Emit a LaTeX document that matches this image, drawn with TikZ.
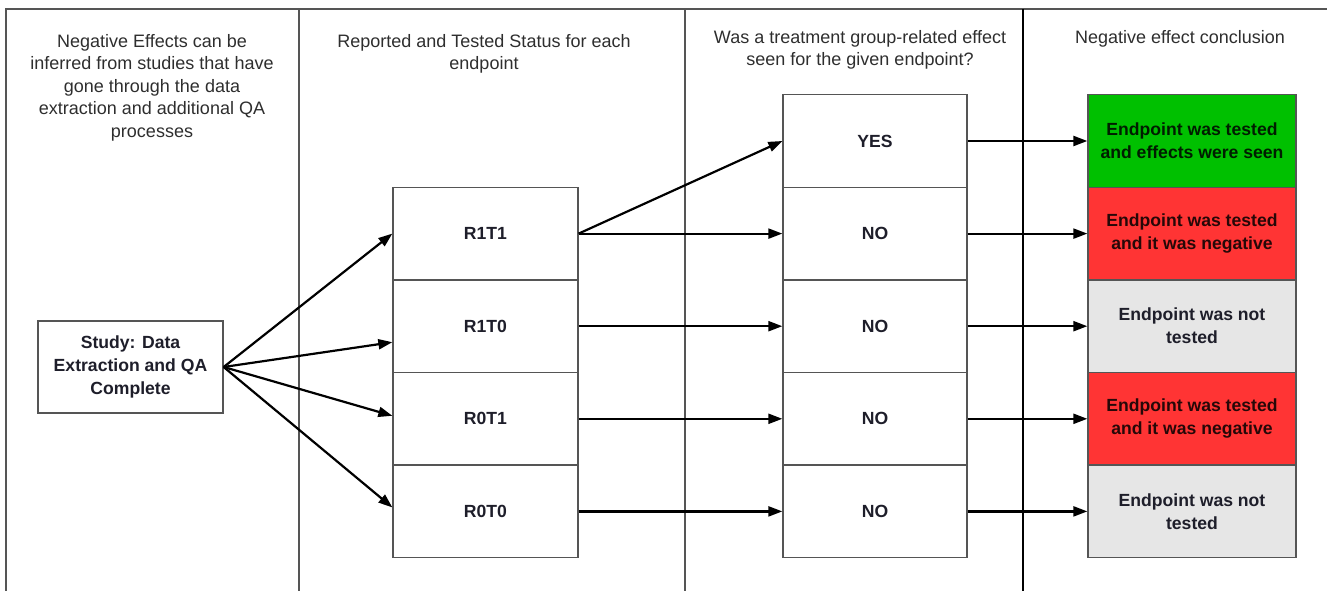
\documentclass[tikz,border=0pt]{standalone}
\usepackage{fontspec}
\setmainfont{Liberation Sans}
\usetikzlibrary{arrows.meta}
\definecolor{okgreen}{HTML}{00C000}
\definecolor{negred}{HTML}{FF3434}
\definecolor{untested}{HTML}{E6E6E6}
\definecolor{rule}{HTML}{555555}
\definecolor{ink}{HTML}{2E2E2E}
\definecolor{labelink}{HTML}{1E1E2A}
\begin{document}
\begin{tikzpicture}[x=1pt,y=-1pt,
  header/.style={align=center, text=ink, inner sep=0pt, anchor=north,
    font=\fontsize{18}{22.5}\selectfont},
  stepbox/.style={draw=rule, line width=1.3pt, fill=white, inner sep=0pt,
    minimum width=185pt, minimum height=92.6pt, align=center, text=labelink,
    font=\bfseries\fontsize{17.6}{23}\selectfont},
  answerbox/.style={stepbox, minimum width=184pt},
  resultbox/.style={stepbox, minimum width=208pt},
  flow/.style={line width=2.2pt, -{Triangle[length=14pt,width=10pt]}}
]
\useasboundingbox (0,0) rectangle (1327,591);

% column frame
\draw[rule, line width=2pt] (6,591) -- (6,9) -- (1327,9);
\draw[rule, line width=1.5pt] (299,9) -- (299,591);
\draw[rule, line width=1.5pt] (685,9) -- (685,591);
\draw[black, line width=2pt] (1023,9) -- (1023,591);

% column headings
\node[header] (h1) at (152,34) {Negative Effects can be\\inferred from studies that have\\gone through the data\\extraction and additional QA\\processes};
\node[header] (h2) at (484,34) {Reported and Tested Status for each\\endpoint};
\node[header] (h3) at (860,30) {Was a treatment group-related effect\\seen for the given endpoint?};
\node[header] (h4) at (1180,30) {Negative effect conclusion};

% starting point
\node[stepbox, minimum height=92pt] (study) at (130.5,367) {Study: Data\\Extraction and QA\\Complete};

% reported / tested status
\node[stepbox] (r1t1) at (485.5,233.6) {R1T1};
\node[stepbox] (r1t0) at (485.5,326.2) {R1T0};
\node[stepbox] (r0t1) at (485.5,418.8) {R0T1};
\node[stepbox] (r0t0) at (485.5,511.4) {R0T0};

% treatment-related effect
\node[answerbox] (yes)  at (875,141)   {YES};
\node[answerbox] (no1)  at (875,233.6) {NO};
\node[answerbox] (no2)  at (875,326.2) {NO};
\node[answerbox] (no3)  at (875,418.8) {NO};
\node[answerbox] (no4)  at (875,511.4) {NO};

% conclusions
\node[resultbox, fill=okgreen, text=black!85!okgreen] (seen) at (1192,141) {Endpoint was tested\\and effects were seen};
\node[resultbox, fill=negred, text=black!85!negred] (neg1) at (1192,233.6) {Endpoint was tested\\and it was negative};
\node[resultbox, fill=untested] (nt1) at (1192,326.2) {Endpoint was not\\tested};
\node[resultbox, fill=negred, text=black!85!negred] (neg2) at (1192,418.8) {Endpoint was tested\\and it was negative};
\node[resultbox, fill=untested] (nt2) at (1192,511.4) {Endpoint was not\\tested};

% study to status
\draw[flow] (study.east) -- (r1t1.west);
\draw[flow] (study.east) -- ([yshift=-16pt]r1t0.west);
\draw[flow] (study.east) -- ([yshift=3pt]r0t1.west);
\draw[flow] (study.east) -- ([yshift=4pt]r0t0.west);

% status to effect
\draw[flow] (r1t1.east) -- (yes.west);
\draw[flow] (r1t1.east) -- (no1.west);
\draw[flow] (r1t0.east) -- (no2.west);
\draw[flow] (r0t1.east) -- (no3.west);
\draw[flow] (r0t0.east) -- (no4.west);

% effect to conclusion
\draw[flow] (yes.east) -- (seen.west);
\draw[flow] (no1.east) -- (neg1.west);
\draw[flow] (no2.east) -- (nt1.west);
\draw[flow] (no3.east) -- (neg2.west);
\draw[flow] (no4.east) -- (nt2.west);
\end{tikzpicture}
\end{document}
